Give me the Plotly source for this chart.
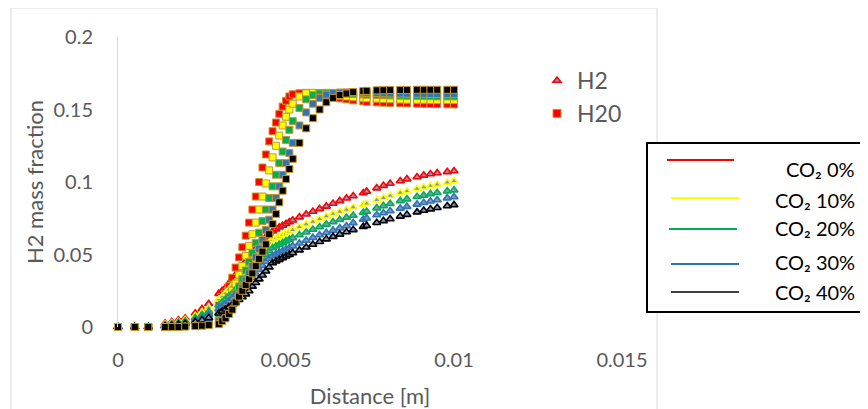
import plotly.graph_objects as go

# ---------------- data ----------------
DIST = [0, 0.0005, 0.0009, 0.0014, 0.0016, 0.0018, 0.002, 0.0023, 0.0025, 0.0027,
        0.003, 0.0031, 0.0032, 0.0033, 0.0034, 0.0035, 0.0036, 0.0037, 0.0038, 0.0039,
        0.004, 0.0041, 0.0042, 0.0043, 0.0044, 0.0045, 0.0046, 0.0047, 0.0048, 0.0049,
        0.005, 0.0051, 0.0052, 0.0054, 0.0056, 0.0058, 0.006, 0.0062, 0.0064, 0.0066,
        0.0068, 0.007, 0.0073, 0.0074, 0.0077, 0.0079, 0.0081, 0.0084, 0.0086, 0.0089,
        0.0091, 0.0093, 0.0095, 0.0098, 0.01]

CASES = ["CO\u2082 0%", "CO\u2082 10%", "CO\u2082 20%", "CO\u2082 30%", "CO\u2082 40%"]

# H2O mass fraction (squares)
H2O_0 = [0, 0, 0, 0.0003, 0.0006, 0.001, 0.0018, 0.004, 0.006, 0.009,
         0.016, 0.019, 0.023, 0.028, 0.034, 0.041, 0.048, 0.055, 0.063, 0.072,
         0.081, 0.090, 0.100, 0.110, 0.119, 0.128, 0.135, 0.141, 0.147, 0.152,
         0.156, 0.159, 0.1605, 0.1612, 0.1615, 0.1612, 0.1605, 0.1595, 0.1585, 0.1577,
         0.157, 0.1563, 0.1556, 0.1553, 0.1549, 0.1547, 0.1545, 0.1543, 0.1542, 0.154,
         0.1539, 0.1538, 0.1537, 0.1536, 0.1535]
H2O_10 = [0, 0, 0, 0.0002, 0.0004, 0.0007, 0.0012, 0.0025, 0.004, 0.006,
          0.010, 0.013, 0.016, 0.020, 0.025, 0.030, 0.036, 0.042, 0.049, 0.056,
          0.064, 0.072, 0.081, 0.090, 0.099, 0.108, 0.117, 0.125, 0.132, 0.139,
          0.145, 0.150, 0.154, 0.159, 0.1612, 0.1615, 0.1612, 0.1607, 0.160, 0.1595,
          0.159, 0.1585, 0.158, 0.1578, 0.1575, 0.1573, 0.1571, 0.1569, 0.1568, 0.1567,
          0.1567, 0.1566, 0.1566, 0.1566, 0.1566]
H2O_20 = [0, 0, 0, 0.0001, 0.0003, 0.0005, 0.0009, 0.0018, 0.003, 0.0045,
          0.007, 0.009, 0.012, 0.015, 0.019, 0.023, 0.028, 0.033, 0.039, 0.045,
          0.051, 0.058, 0.065, 0.073, 0.081, 0.089, 0.097, 0.105, 0.113, 0.121,
          0.129, 0.136, 0.142, 0.151, 0.157, 0.160, 0.1612, 0.1615, 0.1614, 0.1612,
          0.161, 0.1607, 0.1604, 0.1602, 0.16, 0.1598, 0.1597, 0.1595, 0.1594, 0.1593,
          0.1592, 0.1591, 0.159, 0.159, 0.159]
H2O_30 = [0, 0, 0, 0, 0.0002, 0.0004, 0.0006, 0.0012, 0.002, 0.003,
          0.004, 0.006, 0.008, 0.011, 0.014, 0.018, 0.022, 0.027, 0.032, 0.037,
          0.042, 0.048, 0.054, 0.060, 0.067, 0.074, 0.081, 0.089, 0.097, 0.105,
          0.113, 0.120, 0.127, 0.139, 0.148, 0.154, 0.158, 0.1603, 0.1613, 0.1617,
          0.1618, 0.1618, 0.1616, 0.1615, 0.1613, 0.1612, 0.1611, 0.161, 0.1609, 0.1608,
          0.1608, 0.1607, 0.1607, 0.1607, 0.1607]
H2O_40 = [0, 0, 0, 0, 0, 0, 0.0003, 0.0006, 0.0009, 0.0013,
          0.002, 0.004, 0.006, 0.009, 0.012, 0.017, 0.021, 0.025, 0.029, 0.033,
          0.037, 0.042, 0.047, 0.052, 0.057, 0.064, 0.071, 0.078, 0.086, 0.094,
          0.102, 0.109, 0.116, 0.127, 0.137, 0.144, 0.150, 0.155, 0.158, 0.160,
          0.161, 0.162, 0.1627, 0.1629, 0.1632, 0.1633, 0.1634, 0.1635, 0.1635, 0.1636,
          0.1636, 0.1636, 0.1636, 0.1636, 0.1636]

# H2 mass fraction (triangles)
H2_0 = [0, 0, 0, 0.0025, 0.0035, 0.0048, 0.006, 0.0095, 0.0125, 0.016,
        0.023, 0.025, 0.027, 0.030, 0.033, 0.036, 0.039, 0.042, 0.045, 0.048,
        0.051, 0.054, 0.057, 0.0595, 0.062, 0.0645, 0.066, 0.0675, 0.0688, 0.070,
        0.0712, 0.0724, 0.0736, 0.0758, 0.0778, 0.0797, 0.0815, 0.0832, 0.0852, 0.087,
        0.0888, 0.0903, 0.0924, 0.0935, 0.0958, 0.0975, 0.099, 0.1007, 0.102, 0.1034,
        0.1046, 0.1055, 0.1062, 0.107, 0.1076]
H2_10 = [0, 0, 0, 0.0018, 0.0027, 0.0038, 0.005, 0.0078, 0.0102, 0.0132,
         0.019, 0.021, 0.0233, 0.0258, 0.0285, 0.031, 0.034, 0.037, 0.040, 0.043,
         0.046, 0.049, 0.052, 0.0545, 0.0565, 0.0583, 0.060, 0.0612, 0.0624, 0.0636,
         0.0647, 0.0658, 0.0669, 0.069, 0.0708, 0.0726, 0.0745, 0.0764, 0.078, 0.0794,
         0.0808, 0.0825, 0.0845, 0.0852, 0.0875, 0.089, 0.0905, 0.0925, 0.0937, 0.0953,
         0.0963, 0.0973, 0.0982, 0.0996, 0.1006]
H2_20 = [0, 0, 0, 0.0012, 0.002, 0.003, 0.004, 0.0062, 0.0082, 0.0105,
         0.015, 0.017, 0.019, 0.021, 0.0233, 0.0256, 0.028, 0.031, 0.0335, 0.0365,
         0.0395, 0.0425, 0.045, 0.0475, 0.050, 0.0525, 0.0545, 0.0557, 0.0569, 0.058,
         0.0592, 0.0603, 0.0614, 0.0634, 0.0653, 0.0672, 0.069, 0.0708, 0.0724, 0.074,
         0.0755, 0.0769, 0.079, 0.0797, 0.082, 0.0835, 0.085, 0.087, 0.0882, 0.0898,
         0.0908, 0.0918, 0.0926, 0.0937, 0.0944]
H2_30 = [0, 0, 0, 0.0008, 0.0014, 0.0022, 0.003, 0.0048, 0.0065, 0.0085,
         0.0125, 0.014, 0.0158, 0.0177, 0.0197, 0.0218, 0.024, 0.0263, 0.0287, 0.0313,
         0.034, 0.0367, 0.0395, 0.0423, 0.045, 0.0472, 0.049, 0.0502, 0.0514, 0.0525,
         0.0536, 0.0547, 0.0558, 0.0578, 0.0597, 0.0616, 0.0634, 0.065, 0.0666, 0.0682,
         0.0697, 0.0718, 0.0742, 0.075, 0.0772, 0.0786, 0.08, 0.0818, 0.083, 0.0846,
         0.0857, 0.0867, 0.0876, 0.0889, 0.0897]
H2_40 = [0, 0, 0, 0.0005, 0.001, 0.0016, 0.0022, 0.0035, 0.0048, 0.0063,
         0.0095, 0.0108, 0.0122, 0.0137, 0.0153, 0.017, 0.0188, 0.0207, 0.0227, 0.0248,
         0.028, 0.0305, 0.033, 0.0357, 0.0385, 0.0413, 0.0441, 0.0453, 0.0465, 0.0477,
         0.0488, 0.0499, 0.051, 0.053, 0.055, 0.0569, 0.0588, 0.0606, 0.0623, 0.0639,
         0.0655, 0.067, 0.0692, 0.0699, 0.0719, 0.0732, 0.0745, 0.0763, 0.0775, 0.0792,
         0.0803, 0.0813, 0.0822, 0.0834, 0.0842]

H2O_SERIES = [H2O_0, H2O_10, H2O_20, H2O_30, H2O_40]
H2_SERIES = [H2_0, H2_10, H2_20, H2_30, H2_40]

X_TICKS = [0, 0.005, 0.01, 0.015]
X_TICK_TEXT = ["0", "0.005", "0.01", "0.015"]
Y_TICKS = [0, 0.05, 0.1, 0.15, 0.2]
Y_TICK_TEXT = ["0", "0.05", "0.1", "0.15", "0.2"]

# ---------------- style ----------------
COLORS = ["#ff0000", "#ffff00", "#00b050", "#2e75b6", "#000000"]
TRI_FILL = "#8596bf"
SQ_EDGE = "#c8962a"
TXT = "#595959"
FONT = "Lato, 'Open Sans', sans-serif"

# page body has an 8px margin: figure is placed at (8, 8) in the window
OFF = 8
W, H = 868 - OFF, 409 - OFF
L, R, T, B = 118 - OFF, 246, 37 - OFF, 82
PW, PH = W - L - R, H - T - B


def px(xp):  # window pixel x -> paper x
    return (xp - OFF - L) / PW


def py(yp):  # window pixel y -> paper y
    return (H - B - (yp - OFF)) / PH


fig = go.Figure()

for i in range(5):
    fig.add_trace(go.Scatter(
        x=DIST, y=H2_SERIES[i], mode="markers", showlegend=False,
        name="H2 " + CASES[i],
        marker=dict(symbol="triangle-up", size=7, color=TRI_FILL,
                    line=dict(color=COLORS[i], width=1.6)),
        cliponaxis=False))
    fig.add_trace(go.Scatter(
        x=DIST, y=H2O_SERIES[i], mode="markers", showlegend=False,
        name="H2O " + CASES[i],
        marker=dict(symbol="square", size=7, color=COLORS[i],
                    line=dict(color=SQ_EDGE, width=1)),
        cliponaxis=False))

# legend entries for marker types
fig.add_trace(go.Scatter(x=[None], y=[None], mode="markers", name="H2",
                         marker=dict(symbol="triangle-up", size=7, color=TRI_FILL,
                                     line=dict(color="#ff0000", width=1.6))))
fig.add_trace(go.Scatter(x=[None], y=[None], mode="markers", name="H20",
                         marker=dict(symbol="square", size=8, color="#ff0000",
                                     line=dict(color=SQ_EDGE, width=1))))

shapes = []
# outer chart border
shapes.append(dict(type="rect", xref="paper", yref="paper",
                   x0=px(11), x1=px(657), y0=py(415), y1=py(8),
                   line=dict(color="#d9d9d9", width=1), layer="below"))
# CO2 legend box
shapes.append(dict(type="rect", xref="paper", yref="paper",
                   x0=px(647), x1=px(875), y0=py(312), y1=py(143),
                   line=dict(color="#000000", width=2), fillcolor="white", layer="above"))
line_y = [160, 198, 229, 264, 292]
line_x0 = [667, 671, 669, 671, 671]
line_x1 = [734, 739, 737, 739, 739]
text_y = [169, 200, 228, 262, 292]
annotations = []
for i in range(5):
    shapes.append(dict(type="line", xref="paper", yref="paper",
                       x0=px(line_x0[i]), x1=px(line_x1[i]), y0=py(line_y[i]), y1=py(line_y[i]),
                       line=dict(color=COLORS[i], width=2 if i < 4 else 1.5), layer="above"))
    annotations.append(dict(xref="paper", yref="paper", x=px(857), y=py(text_y[i]),
                            text=CASES[i], showarrow=False, xanchor="right", yanchor="middle",
                            font=dict(family=FONT, size=20, color="#000000")))

fig.update_layout(
    width=W, height=H,
    margin=dict(l=L, r=R, t=T, b=B, autoexpand=False),
    paper_bgcolor="white", plot_bgcolor="white",
    font=dict(family=FONT, size=20, color=TXT),
    xaxis=dict(range=[0, 0.015], tickvals=X_TICKS, ticktext=X_TICK_TEXT,
               showgrid=False, zeroline=False, showline=False, ticks="",
               ticklabelstandoff=19, automargin=False,
               title=dict(text="Distance [m]", standoff=18,
                          font=dict(family=FONT, size=22, color=TXT))),
    yaxis=dict(range=[0, 0.2], tickvals=Y_TICKS, ticktext=Y_TICK_TEXT,
               showgrid=False, zeroline=False, showline=True, linecolor="#d9d9d9",
               linewidth=1, ticks="", ticklabelstandoff=20, automargin=False,
               title=dict(text="H2 mass fraction", standoff=3,
                          font=dict(family=FONT, size=22, color=TXT))),
    legend=dict(x=px(537), y=py(59), xanchor="left", yanchor="top",
                bgcolor="rgba(0,0,0,0)", font=dict(family=FONT, size=23, color=TXT),
                itemwidth=30, tracegroupgap=0),
    shapes=shapes,
    annotations=annotations,
)

fig.write_html("out.html")
